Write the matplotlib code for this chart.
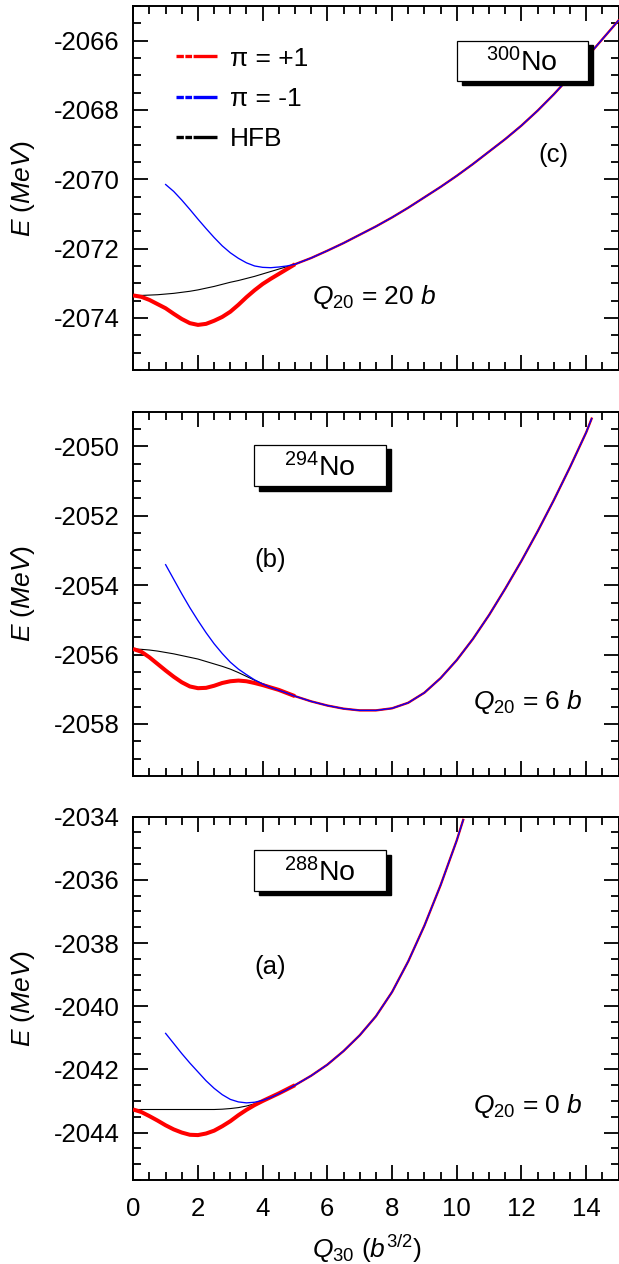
import numpy as np
import matplotlib
matplotlib.use("Agg")
import matplotlib.pyplot as plt
from matplotlib.lines import Line2D
from matplotlib.patches import Rectangle

plt.rcParams["font.family"] = ["Liberation Sans", "DejaVu Sans"]
plt.rcParams["mathtext.fontset"] = "custom"
plt.rcParams["mathtext.rm"] = "Liberation Sans"
plt.rcParams["mathtext.it"] = "Liberation Sans:italic"
plt.rcParams["lines.scale_dashes"] = False
plt.rcParams["axes.unicode_minus"] = False

# ---- data: E (MeV) vs Q30 (b^3/2) ----
# head = region where the curves differ, tail = region where all three coincide
q_head = [0, 0.25, 0.5, 0.75, 1, 1.25, 1.5, 1.75, 2, 2.25, 2.5, 2.75, 3, 3.25, 3.5, 3.75, 4, 4.25, 4.5, 4.75]
q_blue_head = q_head[4:]

# (c) 300No, Q20 = 20 b
red_c = [-2073.35, -2073.39, -2073.48, -2073.6, -2073.72, -2073.88, -2074.03, -2074.15, -2074.2, -2074.17,
         -2074.08, -2073.97, -2073.82, -2073.62, -2073.4, -2073.2, -2073.02, -2072.87, -2072.73, -2072.59]
hfb_c = [-2073.35, -2073.35, -2073.34, -2073.33, -2073.31, -2073.29, -2073.26, -2073.23, -2073.19, -2073.14,
         -2073.09, -2073.03, -2072.97, -2072.92, -2072.86, -2072.8, -2072.73, -2072.66, -2072.59, -2072.52]
blue_c = [-2070.15, -2070.35, -2070.6, -2070.87, -2071.15, -2071.42, -2071.68, -2071.92,
          -2072.12, -2072.28, -2072.41, -2072.5, -2072.54, -2072.55, -2072.53, -2072.5]
q_tail_c = [5, 5.5, 6, 6.5, 7, 7.5, 8, 8.5, 9, 9.5, 10, 10.5, 11, 11.5, 12, 12.5, 13, 13.5, 14, 14.5, 15]
tail_c = [-2072.45, -2072.27, -2072.06, -2071.84, -2071.6, -2071.36, -2071.1, -2070.82, -2070.52, -2070.22,
          -2069.9, -2069.56, -2069.2, -2068.84, -2068.45, -2068.02, -2067.55, -2067.04, -2066.5, -2065.96, -2065.42]

# (b) 294No, Q20 = 6 b
red_b = [-2055.84, -2055.92, -2056.08, -2056.27, -2056.46, -2056.64, -2056.8, -2056.92, -2056.97, -2056.96,
         -2056.9, -2056.82, -2056.77, -2056.75, -2056.77, -2056.82, -2056.88, -2056.95, -2057.02, -2057.11]
hfb_b = [-2055.84, -2055.85, -2055.87, -2055.9, -2055.94, -2055.98, -2056.03, -2056.08, -2056.13, -2056.2,
         -2056.27, -2056.34, -2056.42, -2056.52, -2056.63, -2056.74, -2056.84, -2056.93, -2057.02, -2057.11]
blue_b = [-2053.41, -2053.83, -2054.25, -2054.65, -2055.02, -2055.37, -2055.69, -2055.97,
          -2056.22, -2056.42, -2056.58, -2056.73, -2056.85, -2056.95, -2057.03, -2057.11]
q_tail_b = [5, 5.5, 6, 6.5, 7, 7.5, 8, 8.5, 9, 9.5, 10, 10.5, 11, 11.5, 12, 12.5, 13, 13.5, 14, 14.17]
tail_b = [-2057.2, -2057.35, -2057.47, -2057.56, -2057.61, -2057.61, -2057.55, -2057.39, -2057.1, -2056.68,
          -2056.16, -2055.55, -2054.86, -2054.1, -2053.3, -2052.45, -2051.55, -2050.6, -2049.6, -2049.2]

# (a) 288No, Q20 = 0 b
red_a = [-2043.27, -2043.35, -2043.48, -2043.62, -2043.77, -2043.9, -2044.0, -2044.07, -2044.08, -2044.03,
         -2043.94, -2043.8, -2043.64, -2043.45, -2043.28, -2043.13, -2043.0, -2042.88, -2042.76, -2042.63]
hfb_a = [-2043.27, -2043.27, -2043.27, -2043.27, -2043.27, -2043.27, -2043.27, -2043.27, -2043.27, -2043.27,
         -2043.27, -2043.26, -2043.24, -2043.21, -2043.16, -2043.09, -2043.0, -2042.89, -2042.77, -2042.64]
blue_a = [-2040.86, -2041.18, -2041.5, -2041.8, -2042.08, -2042.36, -2042.6, -2042.8,
          -2042.95, -2043.03, -2043.06, -2043.04, -2042.98, -2042.89, -2042.77, -2042.64]
q_tail_a = [5, 5.5, 6, 6.5, 7, 7.5, 8, 8.5, 9, 9.5, 10, 10.2]
tail_a = [-2042.5, -2042.2, -2041.85, -2041.42, -2040.92, -2040.32, -2039.55, -2038.58, -2037.45, -2036.17,
          -2034.75, -2034.1]

panels = [
    dict(red=red_c, hfb=hfb_c, blue=blue_c, qt=q_tail_c, tail=tail_c, ylim=(-2075.5, -2065),
         nucl="300", tag="(c)", q20="20", pos=[0.2153, 0.7073, 0.7839, 0.2880],
         box=(0.6665, 0.794, 0.2705, 0.1107), tagxy=(0.865, 0.591), q20xy=(0.368, 0.181)),
    dict(red=red_b, hfb=hfb_b, blue=blue_b, qt=q_tail_b, tail=tail_b, ylim=(-2059.5, -2049),
         nucl="294", tag="(b)", q20="6", pos=[0.2153, 0.3861, 0.7839, 0.2882],
         box=(0.2488, 0.796, 0.2719, 0.1126), tagxy=(0.282, 0.593), q20xy=(0.70, 0.183)),
    dict(red=red_a, hfb=hfb_a, blue=blue_a, qt=q_tail_a, tail=tail_a, ylim=(-2045.5, -2034),
         nucl="288", tag="(a)", q20="0", pos=[0.2153, 0.0665, 0.7839, 0.2874],
         box=(0.2488, 0.7955, 0.2719, 0.1125), tagxy=(0.282, 0.586), q20xy=(0.70, 0.184)),
]

fig = plt.figure(figsize=(6.19, 12.64), dpi=100)

for i, p in enumerate(panels):
    ax = fig.add_axes(p["pos"])
    q_all = np.concatenate([q_head, p["qt"]])
    red_all = np.concatenate([p["red"], p["tail"]])
    hfb_all = np.concatenate([p["hfb"], p["tail"]])
    blue_q = np.concatenate([q_blue_head, p["qt"]])
    blue_all = np.concatenate([p["blue"], p["tail"]])
    n_thick = len(q_head) + 1

    ax.plot(q_all, hfb_all, color="black", lw=0.8, zorder=2)
    ax.plot(q_all, red_all, color="red", lw=1.7, zorder=3)
    ax.plot(q_all[:n_thick], red_all[:n_thick], color="red", lw=2.9, zorder=3,
            solid_capstyle="butt", solid_joinstyle="round")
    ax.plot(blue_q, blue_all, color="blue", lw=0.95, zorder=4)

    ax.set_xlim(0, 15)
    ax.set_ylim(*p["ylim"])
    ax.xaxis.set_major_locator(plt.MultipleLocator(2))
    ax.xaxis.set_minor_locator(plt.MultipleLocator(0.5))
    ax.yaxis.set_major_locator(plt.MultipleLocator(2))
    ax.yaxis.set_minor_locator(plt.MultipleLocator(0.5))
    ax.tick_params(which="both", direction="in", top=True, right=True, width=1.3,
                   labelsize=18.5, color="black")
    ax.tick_params(which="major", length=10.8)
    ax.tick_params(which="minor", length=5.8)
    ax.tick_params(axis="y", pad=10)
    ax.tick_params(axis="x", pad=12)
    for s in ax.spines.values():
        s.set_linewidth(1.4)
    ax.set_ylabel(r"$E$ ($MeV$)", fontsize=19)
    ax.yaxis.set_label_coords(-0.1985, 0.5)
    if i < 2:
        ax.tick_params(labelbottom=False)
    else:
        ax.set_xlabel(r"$Q_{30}$ ($b^{3/2}$)", fontsize=19, va="top")
        ax.xaxis.set_label_coords(0.4827, -0.146)

    # nuclide box with drop shadow
    bx, by, bw, bh = p["box"]
    ax.add_patch(Rectangle((bx + 0.0103, by - 0.0124), bw, bh, transform=ax.transAxes,
                           facecolor="black", edgecolor="black", zorder=5))
    ax.add_patch(Rectangle((bx, by), bw, bh, transform=ax.transAxes,
                           facecolor="white", edgecolor="black", lw=0.9, zorder=6))
    ax.text(bx + bw / 2, by + bh / 2 - 0.005, r"$^{%s}$No" % p["nucl"], transform=ax.transAxes,
            ha="center", va="center", fontsize=20.5, zorder=7)

    ax.text(*p["tagxy"], p["tag"], transform=ax.transAxes, ha="center", va="center",
            fontsize=18.5)
    ax.text(*p["q20xy"], r"$Q_{20}$ = %s $b$" % p["q20"], transform=ax.transAxes,
            ha="left", va="baseline", fontsize=19)

    if i == 0:
        pattern = (0, (5.3, 1.1, 4.8, 1.1, 40, 1))
        handles = [Line2D([], [], color=c, lw=2.4, linestyle=pattern)
                   for c in ["red", "blue", "black"]]
        ax.legend(handles, [r"π = +1", r"π = -1", "HFB"], loc="upper left",
                  bbox_to_anchor=(0.088, 0.888), frameon=False, fontsize=19,
                  borderpad=0, borderaxespad=0, handlelength=1.55, handletextpad=0.5,
                  labelspacing=0.61)

fig.savefig("out.png", dpi=100)
